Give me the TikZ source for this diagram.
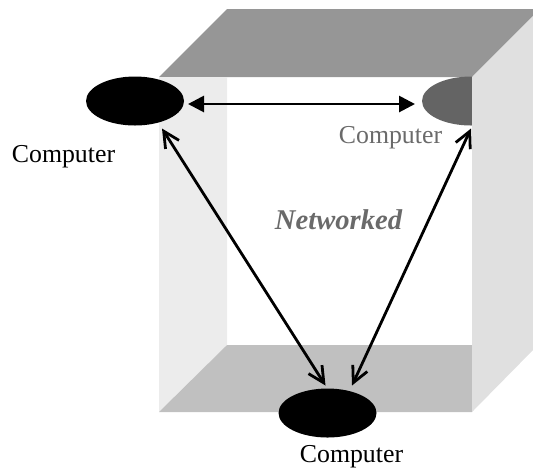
\documentclass[tikz,border=0pt]{standalone}
\usepackage{fontspec}
\setmainfont{Liberation Serif}
\usetikzlibrary{arrows.meta,shapes.geometric}
\definecolor{topgray}{HTML}{969696}
\definecolor{leftwall}{HTML}{ECECEC}
\definecolor{rightwall}{HTML}{E0E0E0}
\definecolor{floorgray}{HTML}{C0C0C0}
\definecolor{pcgray}{HTML}{646464}
\definecolor{textgray}{HTML}{6A6A6A}

\begin{document}
\begin{tikzpicture}[x=0.5pt, y=-0.5pt,
  computer/.style={ellipse, fill=black, minimum width=49pt, minimum height=24.5pt, inner sep=0pt, outer sep=0pt},
  pclabel/.style={anchor=base, inner sep=0pt, font=\fontsize{12.9}{15}\selectfont},
  link/.style={line width=1.4pt, {Straight Barb[length=8pt,width=8pt]}-{Straight Barb[length=8pt,width=8pt]}},
  hlink/.style={line width=1.4pt, {Triangle[length=8pt,width=8pt]}-{Triangle[length=8pt,width=8pt]}}
]
\useasboundingbox (0,0) rectangle (533,468);

% box faces
\fill[topgray] (159,77) -- (227,9) -- (533,9) -- (533,16) -- (472,77) -- cycle;
\fill[leftwall] (159,77) -- (227,77) -- (227,345) -- (159,412) -- cycle;
\fill[floorgray] (159,412) -- (227,345) -- (472,345) -- (472,412) -- cycle;

\node[computer] (pcleft) at (135,101) {};
\node[computer, fill=pcgray] (pcright) at (471,101) {};
\node[computer] (pcbottom) at (327.5,413) {};

\fill[rightwall] (472,77) -- (533,16) -- (533,350) -- (472,412) -- cycle;

\node[pclabel] (lblleft) at (63.5,162) {Computer};
\node[pclabel, text=textgray] (lblright) at (390.5,143) {Computer};
\node[pclabel] (lblbottom) at (351.5,462) {Computer};
\node[anchor=base, inner sep=0pt, text=textgray, font=\fontsize{14.3}{17}\selectfont\bfseries\itshape] (net) at (338.5,229) {Networked};

\draw[hlink] ([shift={(4,3)}]pcleft.east) -- ([shift={(-7,3)}]pcright.west);
\draw[link] ([shift={(27,3)}]pcleft.south) -- ([shift={(-2,-3)}]pcbottom.north);
\draw[link] ([shift={(0,3)}]pcright.south) -- ([shift={(24.5,-3)}]pcbottom.north);
\end{tikzpicture}
\end{document}
